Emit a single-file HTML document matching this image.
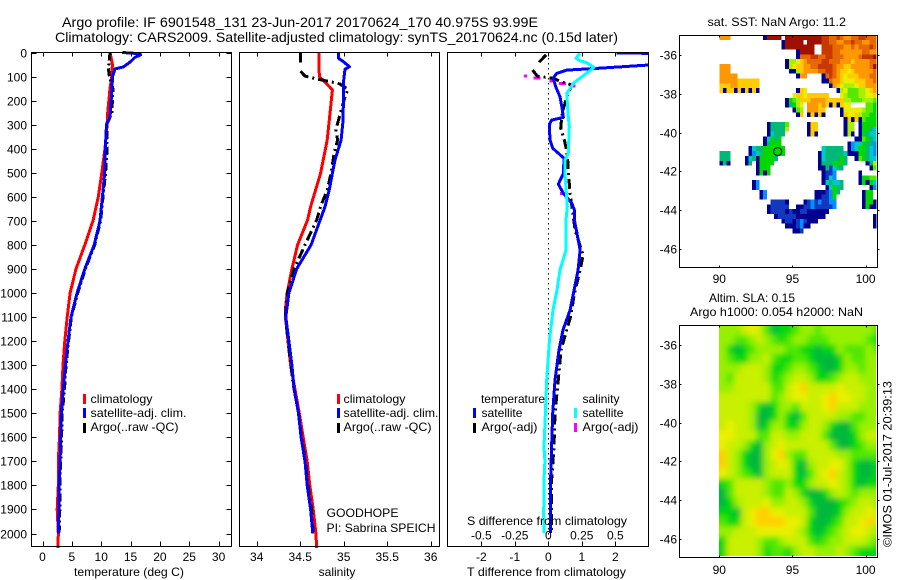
<!DOCTYPE html>
<html>
<head>
<meta charset="utf-8">
<title>Argo profile</title>
<style>
html,body{margin:0;padding:0;background:#fff;}
svg{display:block;}
text{font-family:"Liberation Sans",sans-serif;font-size:12px;fill:#000;}
.t{font-size:14px;}
</style>
</head>
<body>
<svg id="chart" xmlns="http://www.w3.org/2000/svg" width="900" height="580" viewBox="0 0 900 580">
<defs>
<clipPath id="clip-diff"><rect x="448" y="53" width="200" height="493"/></clipPath>
<clipPath id="clip-sla"><rect x="719" y="326" width="157" height="230"/></clipPath>
<filter id="soften" x="-5%" y="-5%" width="110%" height="110%"><feGaussianBlur stdDeviation="3"/></filter>
</defs>
<rect width="900" height="580" fill="#fff"/>
<g id="marks"></g>
<g id="axes"></g>

<text class="t" x="62" y="27" textLength="476" lengthAdjust="spacingAndGlyphs">Argo profile: IF 6901548_131 23-Jun-2017 20170624_170 40.975S 93.99E</text>
<text class="t" x="55" y="42" textLength="563" lengthAdjust="spacingAndGlyphs">Climatology: CARS2009. Satellite-adjusted climatology: synTS_20170624.nc (0.15d later)</text>

<text x="74" y="576" textLength="110" lengthAdjust="spacingAndGlyphs">temperature (deg C)</text>
<text x="337" y="576" text-anchor="middle">salinity</text>
<text x="467" y="576" textLength="159" lengthAdjust="spacingAndGlyphs">T difference from climatology</text>
<text x="467" y="525" textLength="160" lengthAdjust="spacingAndGlyphs">S difference from climatology</text>

<g shape-rendering="crispEdges">
<rect x="83" y="394" width="3" height="10" fill="#f00"/>
<rect x="83" y="408" width="3" height="10" fill="#00f"/>
<rect x="83" y="423" width="3" height="10" fill="#000"/>
<text x="90.5" y="403" textLength="62" lengthAdjust="spacingAndGlyphs">climatology</text>
<text x="90.5" y="417" textLength="96" lengthAdjust="spacingAndGlyphs">satellite-adj. clim.</text>
<text x="90.5" y="431" textLength="88" lengthAdjust="spacingAndGlyphs">Argo(..raw -QC)</text>
</g>
<g shape-rendering="crispEdges">
<rect x="337" y="394" width="3" height="10" fill="#f00"/>
<rect x="337" y="408" width="3" height="10" fill="#00f"/>
<rect x="337" y="423" width="3" height="10" fill="#000"/>
<text x="343.5" y="403" textLength="62" lengthAdjust="spacingAndGlyphs">climatology</text>
<text x="343.5" y="417" textLength="95" lengthAdjust="spacingAndGlyphs">satellite-adj. clim.</text>
<text x="343.5" y="431" textLength="88" lengthAdjust="spacingAndGlyphs">Argo(..raw -QC)</text>
</g>
<text x="326.5" y="517" textLength="72" lengthAdjust="spacingAndGlyphs">GOODHOPE</text>
<text x="326.5" y="532" textLength="109" lengthAdjust="spacingAndGlyphs">PI: Sabrina SPEICH</text>

<g shape-rendering="crispEdges">
<text x="481" y="403" textLength="64" lengthAdjust="spacingAndGlyphs">temperature</text>
<rect x="473" y="408" width="3" height="10" fill="#00f"/>
<rect x="473" y="423" width="3" height="10" fill="#000"/>
<text x="481.5" y="417" textLength="41" lengthAdjust="spacingAndGlyphs">satellite</text>
<text x="481.5" y="431" textLength="56" lengthAdjust="spacingAndGlyphs">Argo(-adj)</text>
<text x="582.5" y="403" textLength="37" lengthAdjust="spacingAndGlyphs">salinity</text>
<rect x="574" y="408" width="3" height="10" fill="#0ff"/>
<rect x="574" y="423" width="3" height="9" fill="#f0f"/>
<text x="582.5" y="417" textLength="41" lengthAdjust="spacingAndGlyphs">satellite</text>
<text x="582.5" y="431" textLength="56" lengthAdjust="spacingAndGlyphs">Argo(-adj)</text>
</g>

<text x="707.5" y="26" textLength="138.5" lengthAdjust="spacingAndGlyphs">sat. SST: NaN Argo: 11.2</text>
<text x="709" y="302" textLength="86" lengthAdjust="spacingAndGlyphs">Altim. SLA: 0.15</text>
<text x="690" y="316" textLength="173" lengthAdjust="spacingAndGlyphs">Argo h1000: 0.054 h2000: NaN</text>
<text transform="translate(891.5,547) rotate(-90)" textLength="166" lengthAdjust="spacingAndGlyphs">©IMOS 01-Jul-2017 20:39:13</text>
</svg>

<script>
// ---------- profile data ----------
const tempClimDepth = [0,50,100,150,250,300,400,500,600,700,800,900,1000,1100,1200,1300,1400,1500,1600,1700,1800,1900,2000,2060];
const tempClimValue = [11.5,11.9,11.8,11.5,11.1,11.0,10.65,10.1,9.5,8.6,7.2,5.7,4.7,4.2,3.8,3.5,3.3,3.0,2.9,2.7,2.7,2.5,2.7,2.65];
const tempSatDepth = [0,5,10,20,40,60,68,100,200,270,300,400,500,600,700,800,900,1000,1100,1200,1300,1400,1500,1600,1700,1800,1900,1950,2000];
const tempSatValue = [13.6,16.6,16.7,15.75,14.9,13.8,12.35,11.95,11.7,11.5,10.9,10.7,10.6,10.2,9.8,8.8,7.2,5.9,4.85,4.35,3.9,3.55,3.2,3.1,3.0,2.85,2.85,2.7,2.7];
const tempArgoDepth = [0,50,60,100,150,200,250,300,400,500,600,700,800,900,1000,1100,1200,1300,1400,1500,1600,1700,1800,1900,1995];
const tempArgoValue = [11.5,11.3,11.2,11.4,12.0,11.9,11.8,10.95,11.0,10.75,10.3,9.9,8.9,7.3,6.0,4.9,4.45,4.0,3.75,3.35,3.25,3.1,2.95,2.95,2.85];

const salClimDepth = [0,100,128,156,225,364,502,641,696,800,900,1000,1050,1100,1200,1300,1400,1500,1600,1700,1800,1900,2000,2060];
const salClimValue = [34.716,34.72,34.80,34.87,34.85,34.81,34.735,34.62,34.585,34.47,34.405,34.35,34.335,34.33,34.36,34.39,34.44,34.49,34.535,34.58,34.61,34.65,34.68,34.69];
const salSatDepth = [0,24,38,59,70,114,225,294,364,447,502,571,641,696,800,900,1000,1100,1200,1300,1400,1500,1600,1700,1800,1900,2000];
const salSatValue = [34.94,34.94,34.995,35.065,35.015,35.0,34.995,34.99,34.97,34.90,34.87,34.835,34.785,34.73,34.625,34.46,34.37,34.335,34.37,34.405,34.43,34.48,34.51,34.555,34.58,34.62,34.645];
const salArgoDepth = [0,44,50,78,98,110,121,131,153,184,267,322,364,419,502,571,641,696,800,900,1000,1100,1200,1380,1500,1600,1700,1800,1900,1995];
const salArgoValue = [34.505,34.505,null,34.505,34.555,34.69,34.84,34.957,35.05,35.015,34.95,34.91,34.93,34.89,34.855,34.81,34.735,34.69,34.555,34.43,34.35,34.33,34.36,34.42,34.48,34.515,34.56,34.59,34.63,34.65];

const diffTSatDepth = [3,3.5,20,52,66,73,87,107,142,184,239,270,281,301,364,398,440,503,547,586,627,655,696,821,904,988,1071,1154,1237,1362,1500,1639,1778,1916,1998];
const diffTSatValue = [2.04,3.4,5.0,3.0,1.44,0.55,0.25,0.15,0.22,0.35,0.42,0.45,0.10,0.03,0.05,0.13,0.47,0.45,0.30,0.45,0.70,0.78,0.78,0.95,0.89,0.77,0.65,0.44,0.32,0.20,0.13,0.10,0.07,0.07,0.07];
const diffTArgoDepth = [10,52,60,73,98,103,107,121,135,177,239,270,315,364,398,447,516,586,668,738,842,904,1008,1091,1237,1362,1500,1639,1778,1916,1998];
const diffTArgoValue = [-0.07,-0.35,null,-0.47,-0.33,-0.09,0.14,0.37,0.70,0.57,0.44,0.40,0.37,0.48,0.53,0.58,0.61,0.65,0.73,0.80,1.04,0.95,0.77,0.68,0.38,0.30,0.20,0.17,0.10,0.10,0.09];
const diffSSatDepth = [3,24,34,42,62,76,107,128,170,205,267,308,419,447,503,641,696,821,904,988,1071,1195,1362,1500,1639,1700,1778,1916,1998];
const diffSSatValue = [0.236,0.207,0.236,0.286,0.34,0.31,0.236,0.187,0.137,0.142,0.149,0.157,0.149,0.125,0.125,0.142,0.132,0.132,0.087,0.065,0.035,0.009,-0.012,-0.022,-0.032,-0.025,-0.032,-0.034,-0.032];
const diffSArgoDepth = [98,107,107,107,118,128,128,128,139,586];
const diffSArgoValue = [-0.169,-0.10,-0.085,-0.07,0.022,0.09,0.105,0.12,0.192,0.10];

// ---------- tick values and labels ----------
const depthTicks = [0,100,200,300,400,500,600,700,800,900,1000,1100,1200,1300,1400,1500,1600,1700,1800,1900,2000];
const tempTicks = [0,5,10,15,20,25,30];
const salTicks = [34,34.5,35,35.5,36];
const salTickLabels = ["34","34.5","35","35.5","36"];
const diffTTicks = [-2,-1,0,1,2];
const diffSTicks = [-0.5,-0.25,0,0.25,0.5];
const diffSTickLabels = ["-0.5","-0.25","0","0.25","0.5"];
const lonTicks = [90,95,100];
const latTicks = [-36,-38,-40,-42,-44,-46];

// ---------- SST map: each row (0.25 deg steps of latitude) lists runs of [start column, level letters] ----------
const sstLevels = {a:"#00008f",b:"#1238c0",c:"#0090ff",d:"#00c8c8",e:"#00b878",f:"#00d800",g:"#58e800",h:"#a8f000",i:"#e8f000",j:"#ffcc00",k:"#ff9800",l:"#e86800",m:"#c83800",n:"#a01000"};
const sstRows = [
[[0,"kkk"],[12,"annnn"],[18,"nnnnnnnnnnmmllmlkkllmmlll"]],
[[17,"annnnn"],[24,"nnnnmmllkkllmllkkll"]],
[[17,"annnnnnnn"],[28,"mmmlllkklklllml"]],
[[21,"annnn"],[28,"mmmllkkkkkkllkk"]],
[[21,"alllmmll"],[29,"mmlllkkkklmmmn"]],
[[18,"ahhijkllllmm"],[30,"lllkkkjkkkkll"]],
[[0,"kkk"],[18,"ahijjkkllmmm"],[30,"mlkkjjkkkkkln"]],
[[0,"kkk"],[19,"aahjkkkkllmm"],[31,"lkjjijkkkkkl"]],
[[0,"kkkkk"],[21,"akk"],[28,"almlkjijjjkkkll"]],
[[0,"kkkkkjjjjjj"],[28,"aalkkjiiijjjkkl"]],
[[0,"jjjkkjjjjjj"],[30,"akjihhhijjkkk"]],
[[0,"jajjajajaja"],[21,"aji"],[32,"ahiggghhijk"]],
[[20,"ijjijjjjjj"],[33,"ihggghhiij"]],
[[18,"afghjjjkkkkjjjjjhhggghhhg"]],
[[18,"aefhi"],[24,"kkkjk"],[29,"jajajii"],[40,"ggf"]],
[[20,"agh"],[24,"kkkjj"],[33,"aiiiiih"],[40,"ggf"]],
[[21,"aj"],[24,"ajaja"],[33,"ajiijhggff"]],
[[34,"ajaja"],[39,"gfff"]],
[[13,"aeeeeg"],[24,"ajj"],[34,"ahh"],[38,"a"],[39,"ffff"]],
[[13,"aeeeeh"],[24,"ajj"],[34,"ahh"],[38,"affed"]],
[[13,"adeee"],[24,"aja"],[34,"aha"],[38,"afedd"]],
[[12,"adfef"],[37,"aagfed"]],
[[12,"aefff"],[35,"acddfeec"]],
[[8,"adeeffffff"],[28,"deeeee"],[35,"acdffedc"]],
[[0,"eee"],[8,"acdeffffff"],[27,"adeeeeed"],[35,"aaaffedc"]],
[[0,"eee"],[7,"adeaffffe"],[27,"adeeeefe"],[37,"agfedd"]],
[[0,"aea"],[7,"ae"],[10,"affff"],[27,"aeeefffe"],[40,"aeh"]],
[[10,"afff"],[27,"aaebdee"],[41,"ag"]],
[[10,"afaf"],[28,"abbc"],[38,"a"]],
[[28,"abdc"],[38,"affgg"]],
[[9,"ac"],[28,"adedde"],[38,"afafd"]],
[[9,"ac"],[29,"adfee"],[41,"ac"]],
[[11,"ac"],[26,"aaabcfe"],[39,"aff"]],
[[11,"ac"],[26,"aabbcf"],[39,"aff"]],
[[14,"bbbba"],[23,"abcbcbbcc"],[39,"aff"],[42,"a"]],
[[13,"abbbbb"],[21,"aabbcbbbbbc"],[39,"afa"],[42,"a"]],
[[13,"abbbb"],[18,"abaabbaaaaaa"]],
[[15,"abbbbbaaaaaaaa"],[42,"a"]],
[[17,"abbabcbaaa"],[42,"a"]],
[[18,"aaabcaa"],[42,"a"]],
[[20,"aab"]]
];

// ---------- SLA map: 0.5 deg cells, one string per row, digit = level ----------
const slaLevels = {1:"#00b83a",2:"#00d810",3:"#50e800",4:"#98f000",5:"#c8f000",6:"#eaf000",7:"#ffd000"};
const slaRows = [
"4445653122344344444443",
"4433454323443334444432",
"4212344443322122433343",
"4322445322332111243344",
"4445554223443211244344",
"4355554234554223455444",
"4455555335675555655544",
"5555555345665567665544",
"5555421244355567555444",
"5555411242135555443344",
"5655412442245542113444",
"6655533554455531112455",
"6554214565555553112344",
"7542114674335555443333",
"7542114565214556642112",
"6543214555213567542112",
"2355554334224556542122",
"1355554335421124543444",
"1245556445542111234554",
"2215677665553111245565",
"3225677776652112355675",
"4455566666542123456654",
"2555543345553234455543",
"2555542332455444543222"
];

// ---------- axis functions ----------
const depthY = d => 52.5 + d * 0.2405;
const tempX = v => 42.5 + v * 5.87;
const salX = v => 256.7 + (v - 34) * 87;
const diffTX = v => 548.3 + v * 33.5;
const diffSX = v => 548.3 + v * 134;
const lonX = v => 719.3 + (v - 90) * 14.63;
const lat1Y = v => 55.3 + (-36 - v) * 19.35;
const lat2Y = v => 345.3 + (-36 - v) * 19.35;

const NS = "http://www.w3.org/2000/svg";
const marks = document.getElementById("marks");
const axes = document.getElementById("axes");

function make(tag, attrs, parent) {
  const node = document.createElementNS(NS, tag);
  for (const k in attrs) node.setAttribute(k, attrs[k]);
  parent.appendChild(node);
  return node;
}

function profile(name, depths, values, xf, color, dash, width, clip) {
  let pts = [];
  const segs = [];
  depths.forEach((d, i) => {
    if (values[i] === null) { if (pts.length) segs.push(pts); pts = []; }
    else pts.push(xf(values[i]).toFixed(1) + "," + depthY(d).toFixed(1));
  });
  if (pts.length) segs.push(pts);
  const g = make("g", clip ? {"clip-path": "url(#" + clip + ")"} : {}, marks);
  
  
  segs.forEach(s => {
    const a = {points: s.join(" "), fill: "none", stroke: color, "stroke-width": width, "stroke-linejoin": "round", "shape-rendering": "crispEdges"};
    if (dash) a["stroke-dasharray"] = dash;
    const line = make("polyline", a, g);
    
    
  });
}

function axisText(str, x, y, anchor, name) {
  const t = make("text", {x: x, y: y, "text-anchor": anchor}, axes);
  t.textContent = str;
  
  
}

function tick(x1, y1, x2, y2, name) {
  const l = make("line", {x1: x1, y1: y1, x2: x2, y2: y2, stroke: "#000", "stroke-width": 1, "shape-rendering": "crispEdges"}, axes);
  
  
}

function frame(x, y, w, h, name) {
  const r = make("rect", {x: x, y: y, width: w, height: h, fill: "none", stroke: "#000", "stroke-width": 1, "shape-rendering": "crispEdges"}, axes);
  
  
}

// ---------- profile panels ----------
const top0 = 52.5, bot0 = 546.5;
frame(31.5, top0, 200, bot0 - top0, "temperature-panel-frame");
frame(239.5, top0, 200, bot0 - top0, "salinity-panel-frame");
frame(447.5, top0, 201, bot0 - top0, "difference-panel-frame");

depthTicks.forEach(d => {
  const y = Math.round(depthY(d)) + 0.5;
  tick(31.5, y, 36.5, y, "depth-tick-left");
  tick(231.5, y, 226.5, y, "depth-tick-right");
  axisText(String(d), 27, y + 4, "end", "depth-tick-label");
});
tempTicks.forEach(v => {
  const x = Math.round(tempX(v)) + 0.5;
  tick(x, top0, x, top0 + 4, "temperature-tick-top");
  tick(x, bot0, x, bot0 - 5, "temperature-tick-bottom");
  axisText(String(v), tempX(v), 561, "middle", "temperature-tick-label");
});
salTicks.forEach((v, i) => {
  const x = Math.round(salX(v)) + 0.5;
  tick(x, top0, x, top0 + 4, "salinity-tick-top");
  tick(x, bot0, x, bot0 - 5, "salinity-tick-bottom");
  axisText(salTickLabels[i], salX(v), 561, "middle", "salinity-tick-label");
});
diffTTicks.forEach(v => {
  const x = Math.round(diffTX(v)) + 0.5;
  tick(x, top0, x, top0 + 4, "t-difference-tick-top");
  tick(x, bot0, x, bot0 - 5, "t-difference-tick-bottom");
  axisText(String(v), diffTX(v), 561, "middle", "t-difference-tick-label");
});
diffSTicks.forEach((v, i) => {
  axisText(diffSTickLabels[i], diffSX(v), 539.5, "middle", "s-difference-tick-label");
});

// zero reference line
const zero = make("line", {x1: 548.5, y1: 53, x2: 548.5, y2: 546, stroke: "#000", "stroke-width": 1, "stroke-dasharray": "1.5,3.5", "shape-rendering": "crispEdges"}, marks);



profile("temperature-climatology", tempClimDepth, tempClimValue, tempX, "#f00", null, 3);
profile("temperature-argo", tempArgoDepth, tempArgoValue, tempX, "#000", "8,3,2,3", 3);
profile("temperature-satellite", tempSatDepth, tempSatValue, tempX, "#00f", null, 3);

profile("salinity-climatology", salClimDepth, salClimValue, salX, "#f00", null, 3);
profile("salinity-argo", salArgoDepth, salArgoValue, salX, "#000", "10,4,2,4", 3);
profile("salinity-satellite", salSatDepth, salSatValue, salX, "#00f", null, 3);

diffSArgoDepth.forEach((d, i) => {
  const m = make("rect", {x: diffSX(diffSArgoValue[i]) - 1.5, y: depthY(d) - 1.5, width: 3, height: 3, fill: "#f0f", "shape-rendering": "crispEdges"}, marks);
  
  
});
profile("t-difference-argo", diffTArgoDepth, diffTArgoValue, diffTX, "#000", "10,4,2,4", 3, "clip-diff");
profile("t-difference-satellite", diffTSatDepth, diffTSatValue, diffTX, "#00f", null, 3, "clip-diff");
profile("s-difference-satellite", diffSSatDepth, diffSSatValue, diffSX, "#0ff", null, 3, "clip-diff");

// ---------- SST map ----------
const sstGroup = make("g", {"shape-rendering": "crispEdges"}, marks);


const sstCellW = lonX(90.25) - lonX(90);
const sstCellH = lat1Y(-35.2) - lat1Y(-34.95);
sstRows.forEach((row, r) => {
  const lat = -34.95 - r * 0.25;
  row.forEach(run => {
    for (let i = 0; i < run[1].length; i++) {
      const lon = 90 + (run[0] + i) * 0.25;
      if (lon >= 100.75) continue;
      const c = make("rect", {x: lonX(lon), y: lat1Y(lat), width: sstCellW, height: sstCellH, fill: sstLevels[run[1][i]]}, sstGroup);
      
      
    }
  });
});
const argoMark = make("circle", {cx: lonX(93.99), cy: lat1Y(-40.975), r: 4, fill: "none", stroke: "#000", "stroke-width": 1}, marks);



// ---------- SLA map ----------
const slaClip = make("g", {"clip-path": "url(#clip-sla)"}, marks);


const slaGroup = make("g", {filter: "url(#soften)", "shape-rendering": "crispEdges"}, slaClip);


const slaCellW = lonX(90.5) - lonX(90);
const slaCellH = 9.6;
slaRows.forEach((row, r) => {
  for (let i = 0; i < row.length; i++) {
    const lat = -34.96 - r * 0.496;
    const padL = i === 0 ? 12 : 0, padR = i === row.length - 1 ? 12 : 0;
    const padT = r === 0 ? 12 : 0, padB = r === slaRows.length - 1 ? 12 : 0;
    const c = make("rect", {x: lonX(90 + i * 0.5) - padL, y: lat2Y(lat) - padT, width: slaCellW + padL + padR, height: slaCellH + padT + padB + 0.5, fill: slaLevels[row[i]]}, slaGroup);
    
    
  }
});

// ---------- map axes ----------
function mapAxes(prefix, topY, botY, latY, lonLabelY) {
  frame(679.5, topY, 198, botY - topY, prefix + "-map-frame");
  lonTicks.forEach(v => {
    const x = Math.round(lonX(v)) + 0.5;
    tick(x, topY, x, topY + 2, prefix + "-lon-tick-top");
    tick(x, botY, x, botY - 2, prefix + "-lon-tick-bottom");
    axisText(String(v), lonX(v), lonLabelY, "middle", prefix + "-lon-tick-label");
  });
  latTicks.forEach(v => {
    const y = Math.round(latY(v)) + 0.5;
    tick(679.5, y, 681.5, y, prefix + "-lat-tick-left");
    tick(877.5, y, 879.5, y, prefix + "-lat-tick-right");
    axisText(String(v), 677, y + 4, "end", prefix + "-lat-tick-label");
  });
}
mapAxes("sst", 35.5, 267.5, lat1Y, 283);
mapAxes("sla", 325.5, 557.5, lat2Y, 574);
</script>
</body>
</html>
